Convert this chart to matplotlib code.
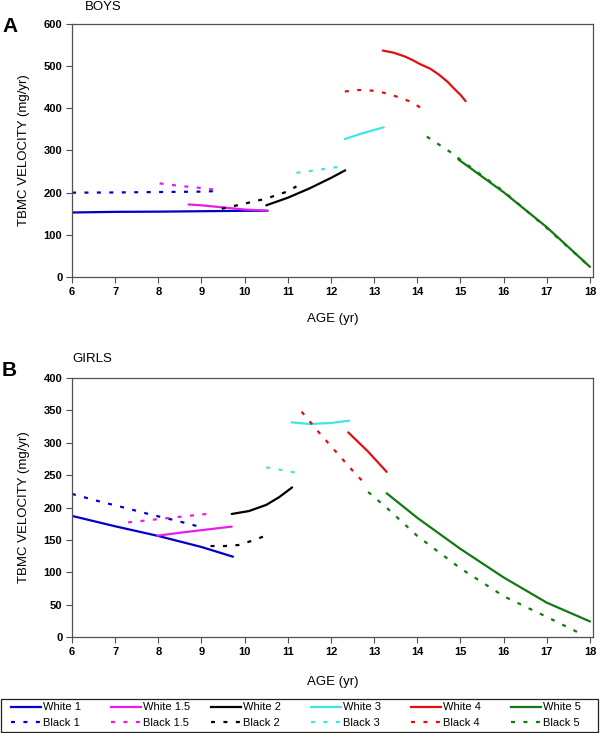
import matplotlib
matplotlib.use("Agg")
import matplotlib.pyplot as plt
from matplotlib.lines import Line2D
from matplotlib.patches import Rectangle

plt.rcParams['font.family'] = ['Liberation Sans', 'DejaVu Sans']

# ---------------- BOYS (panel A) ----------------
boys_w1_age = [6.0, 7.0, 8.0, 9.0, 10.0, 10.53]
boys_w1_val = [153, 154.5, 155, 156, 157, 157]
boys_b1_age = [6.0, 7.0, 8.0, 9.0, 9.4]
boys_b1_val = [200, 200.5, 201.5, 202.5, 204]
boys_w15_age = [8.7, 9.0, 9.5, 10.0, 10.53]
boys_w15_val = [172, 170, 165, 160, 157]
boys_b15_age = [8.03, 8.5, 9.0, 9.3]
boys_b15_val = [222, 216, 211, 207]
boys_w2_age = [10.5, 11.0, 11.5, 12.0, 12.33]
boys_w2_val = [170, 188, 210, 235, 253]
boys_b2_age = [9.47, 10.0, 10.5, 11.0, 11.2]
boys_b2_val = [162, 174, 186, 203, 215]
boys_w3_age = [12.32, 12.7, 13.22]
boys_w3_val = [327, 340, 355]
boys_b3_age = [11.2, 11.7, 12.3]
boys_b3_val = [247, 254, 263]
boys_w4_age = [13.2, 13.45, 13.71, 13.9, 14.06, 14.3, 14.5, 14.7, 14.86, 15.0, 15.12]
boys_w4_val = [537, 532, 523, 514, 505, 494, 480, 463, 446, 432, 417]
boys_b4_age = [12.32, 12.65, 12.96, 13.27, 13.58, 13.89, 14.15]
boys_b4_val = [440, 443.5, 442, 436, 426, 414, 396]
boys_w5_age = [14.95, 16.0, 17.0, 18.0]
boys_w5_val = [279, 201, 118, 24]
boys_b5_age = [14.22, 14.77, 15.0, 16.0, 17.0, 18.0]
boys_b5_val = [333, 296, 278, 203, 116, 24]

# ---------------- GIRLS (panel B) ----------------
girls_w1_age = [6.0, 7.0, 8.0, 9.0, 9.73]
girls_w1_val = [187, 171, 156, 139, 124]
girls_b1_age = [6.0, 6.6, 7.2, 7.8, 8.4, 9.0]
girls_b1_val = [221, 210, 200, 189.5, 180, 169.5]
girls_w15_age = [7.98, 8.5, 9.0, 9.7]
girls_w15_val = [156.5, 161, 165, 170.5]
girls_b15_age = [7.3, 8.2, 9.12]
girls_b15_val = [177, 183.5, 190]
girls_w2_age = [9.7, 10.1, 10.5, 10.8, 11.1]
girls_w2_val = [190, 194.5, 204, 216, 231]
girls_b2_age = [9.21, 9.54, 9.85, 10.14, 10.43]
girls_b2_val = [140.5, 140.5, 142, 148, 155]
girls_w3_age = [11.09, 11.5, 12.0, 12.42]
girls_w3_val = [331.5, 329, 330.5, 334]
girls_b3_age = [10.5, 10.85, 11.17]
girls_b3_val = [262, 258, 254]
girls_w4_age = [12.4, 12.85, 13.29]
girls_w4_val = [316, 287, 255]
girls_b4_age = [11.32, 11.72, 12.13, 12.54, 12.8]
girls_b4_val = [348, 316, 285, 254, 236]
girls_w5_age = [13.29, 14.0, 15.0, 16.0, 17.0, 18.0]
girls_w5_val = [222, 184, 136, 92, 53, 24]
girls_b5_age = [12.86, 13.3, 14.0, 15.0, 16.0, 17.0, 17.85]
girls_b5_val = [224, 199, 156, 106, 63, 31, 3]

group_names = ['1', '1.5', '2', '3', '4', '5']
group_colors = ['#0000C8', '#E81CE8', '#000000', '#3EE6E6', '#E01010', '#117A11']

x_ticks = list(range(6, 19))
boys_yticks = list(range(0, 601, 100))
girls_yticks = list(range(0, 401, 50))

boys_series = [
    (boys_w1_age, boys_w1_val, boys_b1_age, boys_b1_val),
    (boys_w15_age, boys_w15_val, boys_b15_age, boys_b15_val),
    (boys_w2_age, boys_w2_val, boys_b2_age, boys_b2_val),
    (boys_w3_age, boys_w3_val, boys_b3_age, boys_b3_val),
    (boys_w4_age, boys_w4_val, boys_b4_age, boys_b4_val),
    (boys_w5_age, boys_w5_val, boys_b5_age, boys_b5_val),
]
girls_series = [
    (girls_w1_age, girls_w1_val, girls_b1_age, girls_b1_val),
    (girls_w15_age, girls_w15_val, girls_b15_age, girls_b15_val),
    (girls_w2_age, girls_w2_val, girls_b2_age, girls_b2_val),
    (girls_w3_age, girls_w3_val, girls_b3_age, girls_b3_val),
    (girls_w4_age, girls_w4_val, girls_b4_age, girls_b4_val),
    (girls_w5_age, girls_w5_val, girls_b5_age, girls_b5_val),
]

LW = 1.6
DASH = (1.8, 3.8)
spine_col = '#505050'

fig = plt.figure(figsize=(6.0, 7.33), dpi=100)
W, H = 600.0, 733.0

def make_axes(top_px, bot_px):
    return fig.add_axes([72 / W, 1 - bot_px / H, (593 - 72) / W, (bot_px - top_px) / H])

ax1 = make_axes(24, 277)
ax2 = make_axes(378, 637)

def draw(ax, series, yticks, ylim, xlab_y):
    for (wa, wv, ba, bv), c in zip(series, group_colors):
        ax.plot(ba, bv, color=c, lw=LW, dashes=DASH, solid_capstyle='butt')
        ax.plot(wa, wv, color=c, lw=LW, solid_capstyle='round', solid_joinstyle='round')
    ax.set_xlim(6, 18.07)
    ax.set_ylim(*ylim)
    ax.set_xticks(x_ticks)
    ax.set_yticks(yticks)
    ax.set_xticklabels([str(t) for t in x_ticks], fontsize=8, fontweight='bold')
    ax.set_yticklabels([str(t) for t in yticks], fontsize=8, fontweight='bold')
    ax.tick_params(direction='out', length=4, width=0.8, color=spine_col, pad=3)
    for s in ax.spines.values():
        s.set_color(spine_col)
        s.set_linewidth(0.9)
    ax.set_ylabel('TBMC VELOCITY (mg/yr)', fontsize=9.5)
    ax.yaxis.set_label_coords(-0.081, 0.5)
    ax.set_xlabel('AGE (yr)', fontsize=9.5)
    ax.xaxis.set_label_coords(0.5, xlab_y)

draw(ax1, boys_series, boys_yticks, (0, 600), -0.142)
draw(ax2, girls_series, girls_yticks, (0, 400), -0.151)

fig.text(2 / W, 1 - 26 / H, 'A', fontsize=15, fontweight='bold', va='center', ha='left')
fig.text(2 / W, 1 - 370 / H, 'B', fontsize=15, fontweight='bold', va='center', ha='left')
fig.text(85 / W, 1 - 7 / H, 'BOYS', fontsize=9.5, va='center', ha='left')
fig.text(72 / W, 1 - 359 / H, 'GIRLS', fontsize=9.5, va='center', ha='left')

# legend: six equal-width columns inside one box
for i, (name, c) in enumerate(zip(group_names, group_colors)):
    hs = [Line2D([], [], color=c, lw=LW), Line2D([], [], color=c, lw=LW, dashes=DASH)]
    ls = ['White ' + name, 'Black ' + name]
    lg = fig.legend(hs, ls, loc='upper left',
                    bbox_to_anchor=((11 + 100 * i) / W, 1 - 702.5 / H),
                    fontsize=8, frameon=False, handlelength=2.7,
                    handletextpad=0.2, labelspacing=0.5,
                    borderpad=0, borderaxespad=0)
fig.add_artist(Rectangle((1 / W, 1 - 732 / H), 597 / W, 33 / H,
                         transform=fig.transFigure, fill=False,
                         edgecolor='#202020', linewidth=0.9))

fig.savefig('out.png', dpi=100)
